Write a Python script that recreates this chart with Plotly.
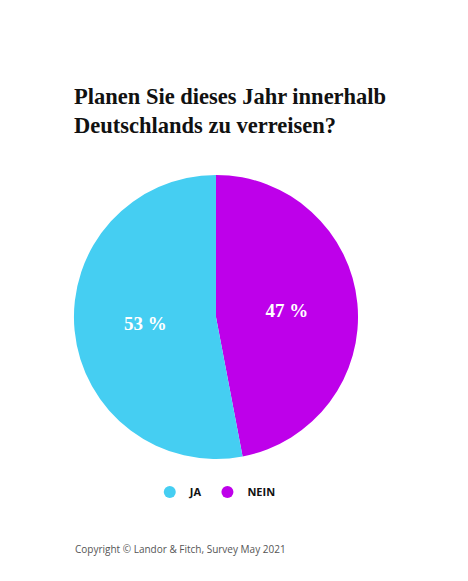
import plotly.graph_objects as go

labels = ["JA", "NEIN"]
values = [53, 47]
slice_text = ["53 %", "47 %"]
colors = ["#45cef2", "#be00ea"]

fig = go.Figure()
# NEIN drawn first, clockwise from 12 o'clock
fig.add_trace(go.Pie(
    labels=labels[::-1], values=values[::-1], text=slice_text[::-1],
    textinfo="text", textposition="inside", insidetextorientation="horizontal",
    marker=dict(colors=colors[::-1], line=dict(width=0)),
    sort=False, direction="clockwise", rotation=0,
    domain=dict(x=[0.158, 0.765], y=[0.21, 0.699]),
    textfont=dict(family="Liberation Serif", size=19, color="white", weight="bold"),
    showlegend=False, hoverinfo="label+percent",
))
# circle markers for the legend
for name, c in zip(labels, colors):
    fig.add_trace(go.Scatter(x=[None], y=[None], mode="markers", name=name,
                             marker=dict(symbol="circle", size=12, color=c)))

fig.update_layout(
    width=468, height=581,
    margin=dict(l=0, r=0, t=0, b=0),
    paper_bgcolor="white", plot_bgcolor="white",
    xaxis=dict(visible=False), yaxis=dict(visible=False),
    title=dict(text="Planen Sie dieses Jahr innerhalb<br>Deutschlands zu verreisen?",
               x=74/468, xanchor="left", y=1-104/581, yanchor="top",
               font=dict(family="Liberation Serif", size=22.5, color="#111", weight="bold")),
    legend=dict(orientation="h", x=0.46, xanchor="center", y=1-492/581, yanchor="middle",
                font=dict(family="Open Sans", size=11, color="#111", weight="bold"),
                itemwidth=30),
    annotations=[dict(text="Copyright © Landor & Fitch, Survey May 2021",
                      x=73/468, y=1-549/581, xref="paper", yref="paper",
                      xanchor="left", yanchor="middle", showarrow=False,
                      font=dict(family="Open Sans", size=10, color="#555"))],
)

fig.write_html("out.html", config={"displayModeBar": False},
               post_script="document.body.style.margin='0';")
